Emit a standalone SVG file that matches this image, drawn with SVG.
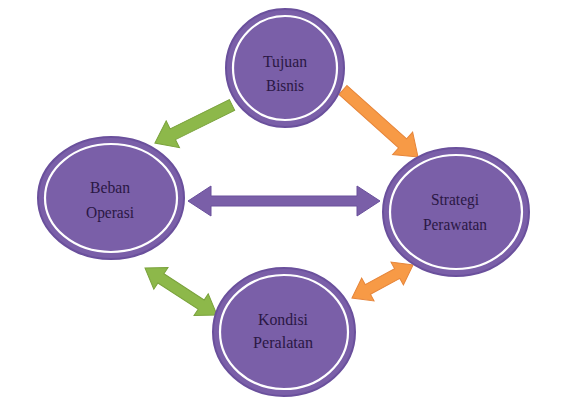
<svg xmlns="http://www.w3.org/2000/svg" width="576" height="407" viewBox="0 0 576 407">
<style>
.outer{fill:#7a5fa8;stroke:#6a509c;stroke-width:2}
.ring{fill:none;stroke:#ffffff;stroke-width:2.2}
.lbl{font-size:17px;fill:#2a1744;text-anchor:middle}
.green{fill:#8db84a;stroke:#7aa23c;stroke-width:1}
.orange{fill:#f79a46;stroke:#e6853a;stroke-width:1}
.purple{fill:#7a5fa8;stroke:#6a509c;stroke-width:1}
</style>
<rect width="576" height="407" fill="#ffffff"/>
<g id="connectors">
  <polygon class="green" transform="translate(232,105) rotate(153.7)" points="0,-6 66,-6 66,-15 86,0 66,15 66,6 0,6"/>
  <polygon class="orange" transform="translate(343,90) rotate(41.8)" points="0,-6 80,-6 80,-15 100.6,0 80,15 80,6 0,6"/>
  <polygon class="purple" transform="translate(188,201)" points="0,0 23,-15 23,-5 169,-5 169,-15 192,0 169,15 169,5 23,5 23,15"/>
  <polygon class="green" transform="translate(145,268) rotate(33.1)" points="0,0 19,-13 19,-5.5 67,-5.5 67,-13 86,0 67,13 67,5.5 19,5.5 19,13"/>
  <polygon class="orange" transform="translate(352,298) rotate(-28.4)" points="0,0 18,-13 18,-5.5 51.4,-5.5 51.4,-13 69.4,0 51.4,13 51.4,5.5 18,5.5 18,13"/>
</g>
<g font-family="Liberation Serif, DejaVu Serif, serif">
<g id="tujuan">
  <ellipse class="outer" cx="285" cy="68" rx="59" ry="59"/>
  <ellipse class="ring" cx="285" cy="68" rx="52" ry="52"/>
  <text class="lbl" x="285" y="67" textLength="44" lengthAdjust="spacingAndGlyphs">Tujuan</text>
  <text class="lbl" x="285" y="91" textLength="38" lengthAdjust="spacingAndGlyphs">Bisnis</text>
</g>
<g id="beban">
  <ellipse class="outer" cx="111" cy="198" rx="73" ry="61"/>
  <ellipse class="ring" cx="111" cy="198" rx="66" ry="54"/>
  <text class="lbl" x="110" y="193" textLength="40" lengthAdjust="spacingAndGlyphs">Beban</text>
  <text class="lbl" x="110" y="218" textLength="48" lengthAdjust="spacingAndGlyphs">Operasi</text>
</g>
<g id="strategi">
  <ellipse class="outer" cx="456" cy="212" rx="73" ry="64"/>
  <ellipse class="ring" cx="456" cy="212" rx="66" ry="57"/>
  <text class="lbl" x="455" y="205" textLength="48" lengthAdjust="spacingAndGlyphs">Strategi</text>
  <text class="lbl" x="455" y="230" textLength="64" lengthAdjust="spacingAndGlyphs">Perawatan</text>
</g>
<g id="kondisi">
  <ellipse class="outer" cx="284" cy="332" rx="71" ry="64"/>
  <ellipse class="ring" cx="284" cy="332" rx="64" ry="57"/>
  <text class="lbl" x="283" y="325" textLength="50" lengthAdjust="spacingAndGlyphs">Kondisi</text>
  <text class="lbl" x="283" y="348" textLength="60" lengthAdjust="spacingAndGlyphs">Peralatan</text>
</g>
</g>
</svg>
